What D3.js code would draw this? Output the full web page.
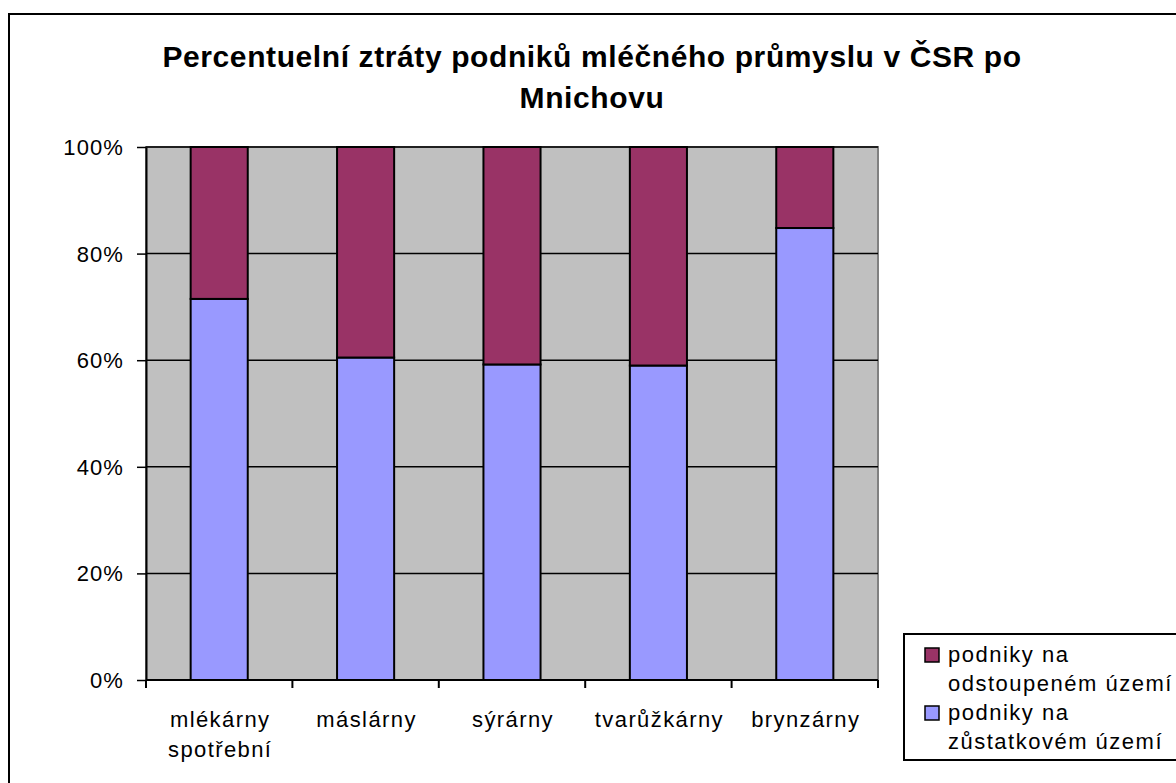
<!DOCTYPE html>
<html><head><meta charset="utf-8">
<script src="https://cdn.jsdelivr.net/npm/d3@7"></script>
<style>body{margin:0;background:#fff;} svg{display:block;font-family:"Liberation Sans",Arial,sans-serif;}</style>
</head><body>
<svg id="c" width="1176" height="783"></svg>
<script>
const categories = [["mlékárny","spotřební"],["máslárny"],["sýrárny"],["tvarůžkárny"],["brynzárny"]];
const remaining = [71.5, 60.5, 59.2, 59.0, 84.8];   // podniky na zůstatkovém území (%)
const ceded = [28.5, 39.5, 40.8, 41.0, 15.2];       // podniky na odstoupeném území (%)
const yTicks = [0, 20, 40, 60, 80, 100];
const seriesNames = [["podniky na","odstoupeném území"],["podniky na","zůstatkovém území"]];
const titleLines = ["Percentuelní ztráty podniků mléčného průmyslu v ČSR po","Mnichovu"];

const svg = d3.select("#c");
const colBlue = "#9999FF", colMaroon = "#993366";

// outer border
svg.append("rect").attr("x",9).attr("y",14).attr("width",1200).attr("height",800)
  .attr("fill","#fff").attr("stroke","#000").attr("stroke-width",2);

const L=146, R=878, T=147, B=680;
const x = d3.scaleBand().domain(d3.range(categories.length)).range([L,R]).paddingInner(0.61).paddingOuter(0.305);
const xb = d3.scaleBand().domain(d3.range(categories.length)).range([L,R]);
const y = d3.scaleLinear().domain([0,100]).range([B,T]);

svg.append("rect").attr("x",L).attr("y",T).attr("width",R-L).attr("height",B-T).attr("fill","#C0C0C0")
  .attr("stroke","#808080").attr("stroke-width",2);

// gridlines
svg.append("g").selectAll("line").data(yTicks.filter(d=>d>0)).join("line")
  .attr("x1",L).attr("x2",R).attr("y1",d=>y(d)).attr("y2",d=>y(d)).attr("stroke","#000").attr("stroke-width",1.5);

// bars
const data = categories.map((c,i)=>({i, a:remaining[i], b:ceded[i]}));
const g = svg.append("g");
g.selectAll(".b1").data(data).join("rect")
  .attr("x",d=>x(d.i)).attr("width",x.bandwidth())
  .attr("y",d=>y(d.a)).attr("height",d=>y(0)-y(d.a))
  .attr("fill",colBlue).attr("stroke","#000").attr("stroke-width",2);
g.selectAll(".b2").data(data).join("rect")
  .attr("x",d=>x(d.i)).attr("width",x.bandwidth())
  .attr("y",d=>y(d.a+d.b)).attr("height",d=>y(d.a)-y(d.a+d.b))
  .attr("fill",colMaroon).attr("stroke","#000").attr("stroke-width",2);

// y axis
const ya = svg.append("g").attr("transform",`translate(${L},0)`)
  .call(d3.axisLeft(y).tickValues(yTicks).tickFormat(d=>d+"%").tickSize(9).tickSizeOuter(0));
ya.select(".domain").attr("stroke","#000").attr("stroke-width",2);
ya.selectAll(".tick line").attr("stroke","#000").attr("stroke-width",1.5);
ya.selectAll("text").attr("font-size",22).attr("letter-spacing",1.1).attr("fill","#000")
  .attr("x",-22).attr("dy","0.34em").attr("font-family","Liberation Sans, Arial");

// x axis
svg.append("line").attr("x1",L).attr("x2",R).attr("y1",B).attr("y2",B).attr("stroke","#000").attr("stroke-width",2);
const bounds = d3.range(categories.length+1).map(i=> i<categories.length ? xb(i) : R);
svg.append("g").selectAll("line").data(bounds).join("line")
  .attr("x1",d=>d).attr("x2",d=>d).attr("y1",B).attr("y2",B+8).attr("stroke","#000").attr("stroke-width",2);
const xl = svg.append("g").selectAll("text").data(categories).join("text")
  .attr("x",(d,i)=>xb(i)+xb.bandwidth()/2).attr("y",727).attr("text-anchor","middle")
  .attr("font-size",22).attr("letter-spacing",1.4).attr("fill","#000");
xl.each(function(d){ const t=d3.select(this);
  d.forEach((s,j)=>t.append("tspan").attr("x",+t.attr("x")+1).attr("dy",j?30:0).text(s)); });

// title
svg.append("g").selectAll("text").data(titleLines).join("text")
  .attr("x",592).attr("y",(d,i)=>67+i*41).attr("text-anchor","middle")
  .attr("font-size",30).attr("letter-spacing",0.6).attr("font-weight","bold").attr("fill","#000").text(d=>d);

// legend
svg.append("rect").attr("x",904).attr("y",634).attr("width",300).attr("height",126)
  .attr("fill","#fff").attr("stroke","#000").attr("stroke-width",2);
const legCols = [colMaroon, colBlue];
const lg = svg.append("g").selectAll("g").data(seriesNames).join("g")
  .attr("transform",(d,i)=>`translate(925,${648+i*58})`);
lg.append("rect").attr("width",14).attr("height",14).attr("fill",(d,i)=>legCols[i]).attr("stroke","#000").attr("stroke-width",1.5);
lg.append("text").attr("font-size",22).attr("letter-spacing",1.5).attr("fill","#000")
  .each(function(d){ const t=d3.select(this);
    d.forEach((s,j)=>t.append("tspan").attr("x",23).attr("y",14+j*29).text(s)); });
</script>
</body></html>
